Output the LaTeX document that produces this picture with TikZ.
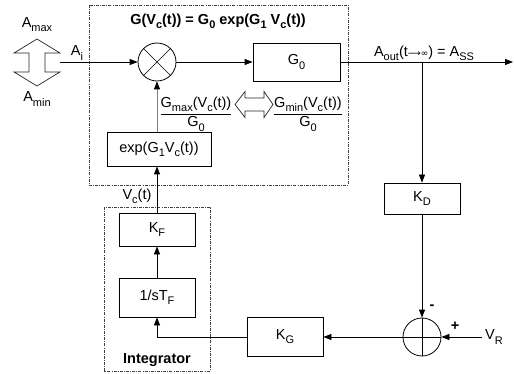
\documentclass[tikz,border=0pt]{standalone}
\usepackage{fontspec}
\setmainfont{Liberation Sans}
\newfontfamily\symfont{DejaVu Sans}
\usetikzlibrary{arrows.meta}
\newcommand\sub[1]{\raisebox{-0.28em}{\fontsize{11}{13}\selectfont #1}}
\begin{document}
\begin{tikzpicture}[x=1pt,y=-1pt,
  every node/.style={font=\fontsize{14.5}{17}\selectfont, inner sep=0pt},
  boldtext/.style={font=\fontsize{14.5}{17}\selectfont\bfseries},
  blk/.style={draw, line width=0.8pt, minimum width=76pt, minimum height=35pt},
  frame/.style={draw=black!75, line width=0.6pt, dash pattern=on 3pt off 1.2pt on 0.8pt off 1.2pt},
  conn/.style={line width=0.8pt, -{Triangle[length=8pt,width=6pt]}},
  grayconn/.style={line width=0.8pt, draw=gray, -{Triangle[length=8pt,width=6pt,color=black]}},
  wire/.style={line width=0.8pt},
  hollow/.style={draw=black!85, line width=0.7pt, fill=white}]
\useasboundingbox (0,0) rectangle (514,374);

% frames
\draw[frame] (89,5) rectangle (348,185);
\draw[frame] (104,207) rectangle (210,371);

% blocks
\node[circle, draw, line width=0.8pt, minimum size=38pt] (mul) at (157,62) {};
\draw[line width=0.6pt] (mul.north west) -- (mul.south east) (mul.north east) -- (mul.south west);
\node[blk, minimum width=87pt, minimum height=38pt] (g0) at (296.5,62) {G\sub{0}};
\node[blk, minimum width=104pt, minimum height=34pt] (exp) at (159,149) {exp(G\sub{1}V\sub{c}(t))};
\node[blk, minimum height=31pt] (kd) at (422,198.5) {K\sub{D}};
\node[circle, draw, line width=0.8pt, minimum size=38pt] (sum) at (422,337) {};
\draw[line width=0.6pt] (sum.north) -- (sum.south) (sum.west) -- (sum.east);
\node[blk, minimum height=39pt] (kg) at (285,337) {K\sub{G}};
\node[blk, minimum height=33pt] (kf) at (157,229.5) {K\sub{F}};
\node[blk, minimum height=39pt] (stf) at (157,297.5) {1/sT\sub{F}};

% free ends
\coordinate (ain) at (60,62);
\coordinate (out) at (513,62);
\coordinate (br) at (422,62);
\coordinate (vr) at (482,337);

% connectors
\draw[conn] (ain) -- (mul);
\draw[conn] (mul) -- (g0);
\draw[conn] (g0) -- (out);
\draw[conn] (br) -- (kd);
\draw[conn] (kd) -- (sum);
\draw[conn] (vr) -- (sum);
\draw[conn] (sum) -- (kg);
\draw[conn] (kg.west) -| (stf.south);
\draw[conn] (stf) -- (kf);
\draw[conn] (kf.north) -- (kf.north |- exp.south);
\draw[grayconn] (exp.north -| mul) -- (mul);

% labels
\node (amax) at (37,25) {A\sub{max}};
\node (amin) at (37,99) {A\sub{min}};
\node (ai) at (77,53) {A\sub{i}};
\node[boldtext] (title) at (218,21) {G(V\sub{c}(t)) = G\sub{0} exp(G\sub{1} V\sub{c}(t))};
\node (aout) at (424,53) {A\sub{out}(t{\symfont\fontsize{9}{10}\selectfont ⟶∞}) = A\sub{SS}};
\node (vc) at (137,196) {V\sub{c}(t)};
\node[boldtext] (minus) at (432,307) {-};
\node[boldtext] (plus) at (455,326) {+};
\node (vrl) at (494,337) {V\sub{R}};
\node[boldtext] (integ) at (157,360) {Integrator};

% fractions
\node (gmaxn) at (196,104) {G\sub{max}(V\sub{c}(t))};
\node (gmaxd) at (196,124) {G\sub{0}};
\draw[wire] (gmaxn.west |- 0,114) -- (gmaxn.east |- 0,114);
\node (gminn) at (308,104) {G\sub{min}(V\sub{c}(t))};
\node (gmind) at (308,124) {G\sub{0}};
\draw[wire] (gminn.west |- 0,114) -- (gminn.east |- 0,114);

% hollow double arrows
\draw[hollow] (37,39) -- (60,53) -- (45,53) -- (45,72) -- (60,72) -- (37,86) -- (14,72) -- (29,72) -- (29,53) -- (14,53) -- cycle;
\draw[hollow] (235,104.5) -- (245,91.5) -- (245,98) -- (264,98) -- (264,91.5) -- (273,104.5) -- (264,117.5) -- (264,111) -- (245,111) -- (245,117.5) -- cycle;
\end{tikzpicture}
\end{document}
